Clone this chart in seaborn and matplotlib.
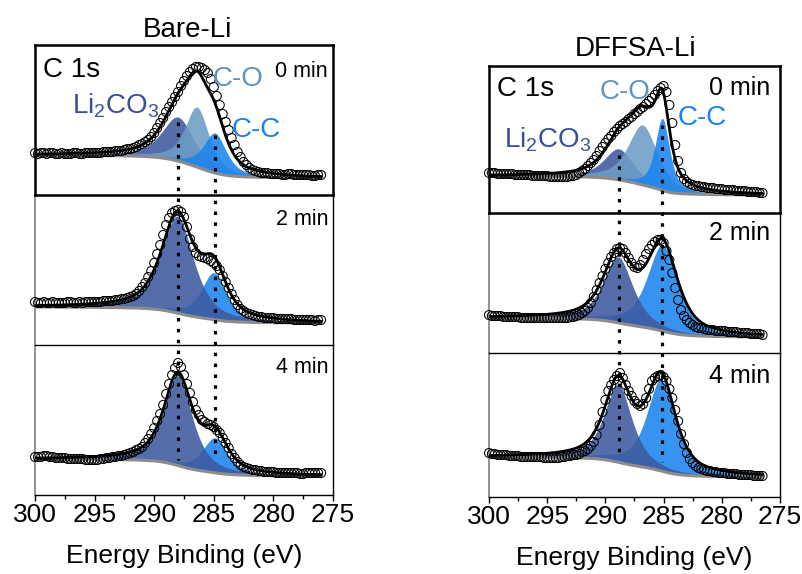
import numpy as np
import matplotlib
matplotlib.use("Agg")
import matplotlib.pyplot as plt
import matplotlib.transforms as mtransforms
from matplotlib.lines import Line2D
from matplotlib.ticker import MultipleLocator
import seaborn as sns

sns.set_style("white")
plt.rcParams["font.family"] = ["Liberation Sans", "DejaVu Sans"]
plt.rcParams["mathtext.fontset"] = "custom"
plt.rcParams["mathtext.rm"] = "Liberation Sans"
plt.rcParams["text.color"] = "black"
plt.rcParams["axes.labelcolor"] = "black"
plt.rcParams["xtick.color"] = "black"

# ---------------- measured C 1s spectra (intensity, arb. units) ----------------
energy_bare = np.arange(300.0, 275.9, -0.25)    # 300 ... 276 eV
energy_dffsa = np.arange(300.0, 276.4, -0.25)   # 300 ... 276.5 eV

bare_0min = [42, 41, 42, 42, 41, 42, 42, 41, 41, 42, 41, 41, 41, 42, 42, 41, 41, 42, 42, 42,
             42, 42, 42, 43, 43, 43, 43, 44, 44, 44,
             45, 46, 46, 47, 48, 50, 51, 53, 55, 58,
             62, 67, 72, 77, 83, 88, 93, 98, 103, 109,
             114, 119, 123, 126, 128, 128, 127, 125, 122, 116,
             108, 99, 90, 81, 73, 65, 57, 50, 43, 38,
             33, 30, 27, 25, 24, 23, 22, 22, 22, 21,
             21, 21, 21, 20, 20, 21, 21, 20, 20, 20,
             20, 20, 20, 19, 19, 20, 20]
bare_2min = [43, 42, 42, 43, 42, 42, 43, 42, 42, 42, 42, 43, 43, 42, 42, 43, 42, 43, 43, 43,
             43, 43, 43, 44, 44, 44, 44, 45, 45, 46,
             46, 47, 48, 49, 51, 54, 58, 62, 68, 74,
             82, 91, 100, 110, 120, 127, 132, 134, 135, 133,
             128, 118, 106, 98, 92, 89, 88, 87, 86, 84,
             82, 79, 75, 69, 63, 57, 51, 45, 40, 36,
             34, 32, 31, 30, 29, 28, 28, 27, 27, 27,
             27, 26, 26, 26, 26, 26, 26, 25, 25, 25,
             25, 25, 25, 25, 24, 25, 25]
bare_4min = [38, 38, 38, 39, 39, 38, 38, 37, 37, 37, 37, 36, 36, 36, 36, 36, 36, 35, 35, 35,
             35, 35, 36, 36, 37, 37, 38, 38, 39, 39,
             40, 41, 42, 43, 45, 46, 48, 52, 56, 61,
             67, 74, 81, 90, 101, 111, 120, 127, 132, 128,
             120, 111, 102, 93, 85, 80, 75, 73, 71, 70,
             68, 65, 62, 57, 52, 47, 41, 37, 33, 30,
             28, 27, 26, 25, 25, 24, 24, 23, 23, 23,
             23, 22, 22, 22, 22, 22, 22, 22, 22, 21,
             21, 22, 22, 22, 22, 22, 22]

dffsa_0min = [40, 40, 40, 39, 39, 39, 39, 39, 39, 38, 38, 38, 38, 38, 38, 37, 37, 37, 37, 37,
              37, 36, 36, 36, 36, 36, 36, 36, 37, 37,
              38, 40, 42, 44, 47, 50, 53, 57, 62, 66,
              70, 74, 77, 81, 84, 87, 89, 91, 94, 96,
              99, 101, 104, 106, 109, 112, 115, 118, 122, 125,
              127, 121, 108, 90, 68, 52, 40, 34, 31, 29,
              28, 27, 27, 26, 26, 25, 25, 25, 24, 24,
              24, 23, 23, 23, 23, 22, 22, 22, 22, 21,
              21, 21, 21, 20, 20]
dffsa_2min = [38, 37, 37, 37, 37, 36, 36, 36, 36, 36, 36, 35, 35, 35, 35, 35, 35, 35, 35, 35,
              35, 35, 35, 35, 35, 35, 35, 35, 36, 36,
              37, 38, 40, 42, 45, 50, 56, 63, 70, 77,
              84, 90, 96, 100, 104, 105, 104, 100, 95, 90,
              86, 85, 88, 93, 99, 104, 108, 111, 113, 113,
              110, 102, 93, 80, 65, 53, 43, 37, 33, 30,
              28, 26, 25, 25, 24, 23, 23, 23, 22, 22,
              22, 22, 21, 21, 21, 21, 20, 20, 20, 20,
              19, 19, 19, 19, 18]
dffsa_4min = [44, 43, 43, 42, 42, 42, 42, 41, 41, 41, 41, 40, 40, 40, 40, 40, 40, 40, 40, 39,
              39, 39, 39, 39, 39, 40, 40, 41, 41, 42,
              42, 43, 45, 46, 48, 51, 55, 62, 72, 85,
              97, 106, 112, 117, 121, 124, 119, 112, 106, 101,
              96, 93, 91, 93, 99, 108, 116, 119, 121, 122,
              120, 116, 108, 99, 87, 76, 63, 53, 44, 38,
              34, 31, 29, 28, 27, 26, 26, 25, 25, 24,
              24, 24, 23, 23, 23, 23, 22, 22, 22, 22,
              22, 21, 21, 21, 21]

# ---------------- peak fits: (centre eV, height, FWHM eV) ----------------
bare_0min_peaks = {"Li2CO3": (288.0, 44, 3.2), "C-O": (286.4, 60, 2.4), "C-C": (284.9, 40, 2.3)}
bare_2min_peaks = {"C-C": (285.0, 47, 2.5), "Li2CO3": (288.05, 97, 3.2)}
bare_4min_peaks = {"C-C": (284.9, 35, 2.5), "Li2CO3": (288.0, 90, 2.8)}
dffsa_0min_peaks = {"Li2CO3": (288.85, 31, 3.0), "C-O": (286.8, 60, 3.0), "C-C": (285.1, 72, 1.5)}
dffsa_2min_peaks = {"C-C": (285.1, 86, 3.1), "Li2CO3": (288.9, 66, 3.0)}
dffsa_4min_peaks = {"C-C": (285.2, 92, 2.9), "Li2CO3": (288.9, 78, 2.8)}

# background level on the high-BE and low-BE side
bare_bg = [(40, 17), (38, 22), (36, 19)]
dffsa_bg = [(37, 18), (35, 16), (40, 20)]

# reference positions of the Li2CO3 and C-C components
bare_refs = [288.0, 284.9]
dffsa_refs = [288.85, 285.1]

times = ["0 min", "2 min", "4 min"]

COLORS = {"Li2CO3": "#3D5A9E", "C-O": "#6C9DC6", "C-C": "#1C84EE"}

W, H = 802, 574


def fx(px):
    return px / W


def fy(py):
    return 1 - py / H


def pseudo_voigt(e, centre, height, fwhm, eta=0.7):
    d = (e - centre) / fwhm
    g = np.exp(-4 * np.log(2) * d ** 2)
    lo = 1.0 / (1 + 4 * d ** 2)
    return height * ((1 - eta) * g + eta * lo)


def draw_spectrum(ax, energy, counts, peaks, bg_ends):
    grid = np.linspace(energy[0], energy[-1], 800)
    comps = {k: pseudo_voigt(grid, *v) for k, v in peaks.items()}
    total = np.sum(list(comps.values()), axis=0)
    # Shirley-type step background following the integrated peak area
    seg = (total[1:] + total[:-1]) / 2 * np.abs(np.diff(grid))
    from_high = np.concatenate([[0], np.cumsum(seg)])
    frac = 1 - from_high / from_high[-1]
    b_high, b_low = bg_ends
    bg = b_low + (b_high - b_low) * frac

    for name, comp in comps.items():
        ax.fill_between(grid, bg, bg + comp, color=COLORS[name], alpha=0.88,
                        lw=0, zorder=2)
    sns.lineplot(x=grid, y=bg, ax=ax, color="#8C8C8C", lw=2.2, sort=False, zorder=3)
    sns.lineplot(x=grid, y=bg + total, ax=ax, color="black", lw=2.0, sort=False, zorder=4)
    ax.scatter(energy, counts, s=42, facecolors="none", edgecolors="black",
               linewidths=0.75, zorder=5, clip_on=False)


fig = plt.figure(figsize=(W / 100, H / 100), dpi=100)

columns = [
    dict(x0=35, x1=333, rows=[45, 195, 345, 495], energy=energy_bare,
         data=[bare_0min, bare_2min, bare_4min],
         peaks=[bare_0min_peaks, bare_2min_peaks, bare_4min_peaks], bg=bare_bg,
         refs=bare_refs),
    dict(x0=489, x1=780, rows=[66, 213, 353, 497], energy=energy_dffsa,
         data=[dffsa_0min, dffsa_2min, dffsa_4min],
         peaks=[dffsa_0min_peaks, dffsa_2min_peaks, dffsa_4min_peaks], bg=dffsa_bg,
         refs=dffsa_refs),
]

for col in columns:
    axes = []
    for i in range(3):
        top, bot = col["rows"][i], col["rows"][i + 1]
        ax = fig.add_axes([fx(col["x0"]), fy(bot), (col["x1"] - col["x0"]) / W,
                           (bot - top) / H], zorder=3 - i)
        ax.patch.set_visible(False)
        draw_spectrum(ax, col["energy"], col["data"][i], col["peaks"][i], col["bg"][i])
        ax.set_xlim(300, 275)
        ax.set_ylim(0, bot - top)
        ax.set_yticks([])
        ax.set_xlabel("")
        ax.set_ylabel("")
        ax.xaxis.set_major_locator(MultipleLocator(5))
        ax.xaxis.set_minor_locator(MultipleLocator(2.5))
        if i == 0:
            for s in ax.spines.values():
                s.set_linewidth(1.8)
                s.set_color("black")
                s.set_zorder(6)
        else:
            ax.spines["top"].set_visible(False)
            ax.spines["left"].set_color("#7F7F7F")
            ax.spines["left"].set_linewidth(1.2)
            ax.spines["right"].set_color("black")
            ax.spines["right"].set_linewidth(1.0)
            ax.spines["bottom"].set_color("black")
            ax.spines["bottom"].set_linewidth(1.0)
        if i < 2:
            ax.tick_params(axis="x", which="both", bottom=False, labelbottom=False)
        else:
            ax.tick_params(axis="x", which="major", direction="out", length=4,
                           width=1, labelsize=19, pad=1.5, bottom=True)
            ax.tick_params(axis="x", which="minor", direction="out", length=3,
                           width=1, bottom=True)
        axes.append(ax)
    col["axes"] = axes

# dotted guide lines through the three panels
guide_spans = [[(122, 460), (135, 460)], [(155, 452), (125, 462)]]
for col, spans in zip(columns, guide_spans):
    trans = mtransforms.blended_transform_factory(col["axes"][-1].transData,
                                                  fig.transFigure)
    for x, (y0, y1) in zip(col["refs"], spans):
        fig.add_artist(Line2D([x, x], [fy(y0), fy(y1)], transform=trans,
                              color="black", lw=2.3, linestyle=(0, (1.1, 2.3)),
                              zorder=10))

# titles and axis labels
fig.text(fx(187), fy(37), "Bare-Li", ha="center", va="baseline", fontsize=20)
fig.text(fx(636), fy(56), "DFFSA-Li", ha="center", va="baseline", fontsize=20)
fig.text(fx(184), fy(563), "Energy Binding (eV)", ha="center", va="baseline", fontsize=19)
fig.text(fx(634), fy(565), "Energy Binding (eV)", ha="center", va="baseline", fontsize=19)

# panel annotations
fig.text(fx(43), fy(77), "C 1s", ha="left", va="baseline", fontsize=20)
fig.text(fx(497), fy(96), "C 1s", ha="left", va="baseline", fontsize=20)

li_label = r"Li$_\mathregular{2}$CO$_\mathregular{3}$"
fig.text(fx(72), fy(113), li_label, ha="left", va="baseline", fontsize=20,
         color="#3A4F9B")
fig.text(fx(504), fy(147), li_label, ha="left", va="baseline", fontsize=20,
         color="#3A4F9B")
fig.text(fx(213), fy(86), "C-O", ha="left", va="baseline", fontsize=20, color="#5F93C0")
fig.text(fx(600), fy(99), "C-O", ha="left", va="baseline", fontsize=20, color="#5F93C0")
fig.text(fx(232), fy(137), "C-C", ha="left", va="baseline", fontsize=20, color="#1A82EA")
fig.text(fx(678), fy(125), "C-C", ha="left", va="baseline", fontsize=20, color="#1A82EA")

left_time_y = [77, 225, 373]
right_time_y = [95, 240, 383]
for t, yl, yr in zip(times, left_time_y, right_time_y):
    fig.text(fx(328), fy(yl), t, ha="right", va="baseline", fontsize=15.5)
    fig.text(fx(770), fy(yr), t, ha="right", va="baseline", fontsize=18)

fig.savefig("out.png", dpi=100)
